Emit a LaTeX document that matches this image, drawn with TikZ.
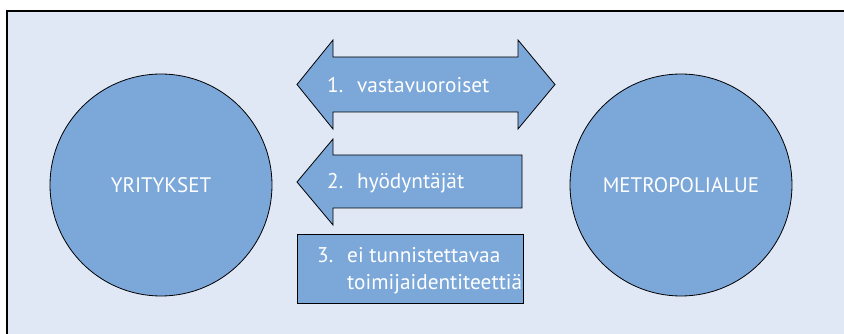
\documentclass[tikz,border=0pt]{standalone}
\usepackage{fontspec}
\setmainfont{PT Sans}
\definecolor{panel}{HTML}{E1E8F5}
\definecolor{blob}{HTML}{7BA7D9}
\newcommand{\itemno}[1]{\makebox[30pt][l]{#1.}}
\begin{document}
\begin{tikzpicture}[x=1pt,y=-1pt,
  shapeline/.style={draw=black,line width=0.8pt,fill=blob,line join=miter},
  party/.style={circle,shapeline,minimum size=222pt,inner sep=0pt,
    text=white,font=\fontsize{21}{25}\selectfont},
  label/.style={text=white,inner sep=0pt,anchor=base west,
    font=\fontsize{21.3}{27}\selectfont}]
\useasboundingbox (0,0) rectangle (844,334);
% panel with its frame running off the right and bottom edges
\begin{scope}
\clip (0,0) rectangle (844,334);
\filldraw[fill=panel,draw=black,line width=1.3pt] (7,11) rectangle (860,350);
\end{scope}
% the two parties
\node[party] (firms) at (161,185) {YRITYKSET};
\node[party] (metro) at (681,185) {METROPOLIALUE};
% 1: two-way arrow
\draw[shapeline] (297,84.5) -- (333,40) -- (333,57) -- (518,57) -- (518,40)
  -- (555,84.5) -- (518,129) -- (518,112) -- (333,112) -- (333,129) -- cycle;
\node[label] (mutual) at (327,93) {\itemno{1}vastavuoroiset};
% 2: one-way arrow towards the firms
\draw[shapeline] (297,182) -- (333,139) -- (333,155) -- (522,155)
  -- (522,208) -- (333,208) -- (333,225) -- cycle;
\node[label] (users) at (327,189) {\itemno{2}hyödyntäjät};
% 3: plain box with a two-line, hanging label
\draw[shapeline] (297,234) rectangle (523,303);
\node[label] (none) at (317,262) {\itemno{3}ei tunnistettavaa};
\node[label] (none2) at (347,289) {toimijaidentiteettiä};
\end{tikzpicture}
\end{document}
